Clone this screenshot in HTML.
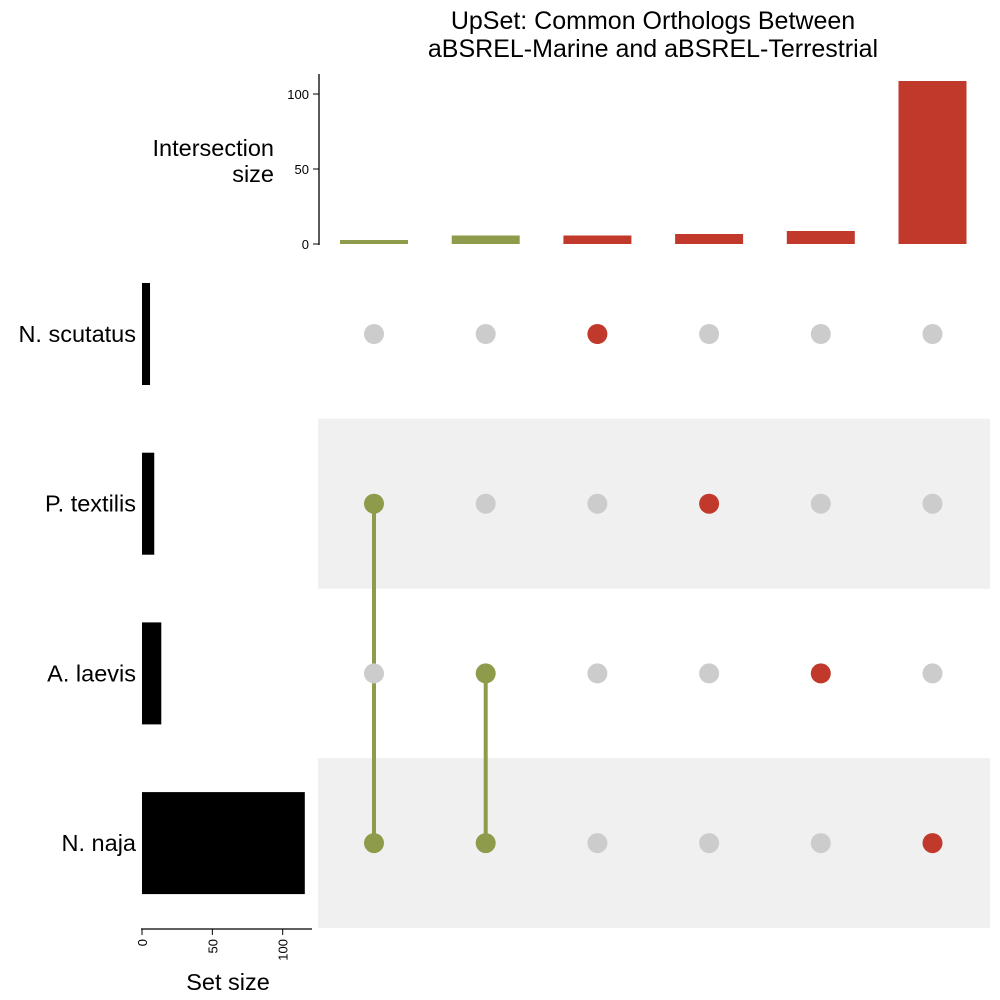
<!DOCTYPE html>
<html><head><meta charset="utf-8"><style>body{margin:0;background:#fff}svg{display:block;font-family:"Liberation Sans",Arial,sans-serif}</style></head>
<body>
<svg id="c" width="1000" height="1000"></svg>
<script>
const sets = ["N. scutatus","P. textilis","A. laevis","N. naja"];
const setSizes = [5, 8, 13, 115];
const interSizes = [2, 5, 5, 6, 8, 108];
const interMembers = [[1,3],[2,3],[0],[1],[2],[3]];
const interColors = ["#8e9b4b","#8e9b4b","#c0392b","#c0392b","#c0392b","#c0392b"];
const yTicks = [0, 50, 100];
const xTicks = [0, 50, 100];

const NS="http://www.w3.org/2000/svg", svg=document.getElementById('c');
function el(t,a,txt){const e=document.createElementNS(NS,t);for(const k in a)e.setAttribute(k,a[k]);if(txt!==undefined)e.textContent=txt;svg.appendChild(e);return e;}
const colX = i => 374 + i*111.7;
const barY = v => 244 - v*1.5;
const rowY = j => 334 + j*169.7;
const setX = v => 142 + v*1.407;

let t=el('text',{x:653,y:29,'text-anchor':'middle','font-size':25},'UpSet: Common Orthologs Between');

t=el('text',{x:653,y:57,'text-anchor':'middle','font-size':25},'aBSREL-Marine and aBSREL-Terrestrial');


sets.forEach((s,j)=>{if(j%2==1){const r=el('rect',{x:318,y:rowY(j)-85,width:672,height:170,fill:'#f0f0f0'});
}});

let a=el('line',{x1:319,y1:74,x2:319,y2:245,stroke:'#000','stroke-width':1.3});

yTicks.forEach(v=>{el('line',{x1:313,x2:319,y1:barY(v),y2:barY(v),stroke:'#000'});
const tl=el('text',{x:309,y:barY(v)+5,'text-anchor':'end','font-size':13},v);
});
t=el('text',{x:274,y:156,'text-anchor':'end','font-size':23.5},'Intersection');

el('text',{x:274,y:182,'text-anchor':'end','font-size':23.5},'size');

interSizes.forEach((v,i)=>{const b=el('rect',{x:colX(i)-34,y:barY(v)-1,width:68,height:245-barY(v),fill:interColors[i]});
});

interMembers.forEach((m,i)=>{
 if(m.length>1){const ys=m.map(rowY);const l=el('line',{x1:colX(i),x2:colX(i),y1:Math.min(...ys),y2:Math.max(...ys),stroke:interColors[i],'stroke-width':4});
 }
 sets.forEach((s,j)=>{const on=m.includes(j);const c=el('circle',{cx:colX(i),cy:rowY(j),r:10,fill:on?interColors[i]:'#cccccc'});
 });
});

sets.forEach((s,j)=>{const l=el('text',{x:136,y:rowY(j)+8,'text-anchor':'end','font-size':23.5},s);

const b=el('rect',{x:142,y:rowY(j)-51,width:setX(setSizes[j])-142+1,height:102,fill:'#000'});
});
a=el('line',{x1:141,y1:929,x2:312,y2:929,stroke:'#000','stroke-width':1.3});

xTicks.forEach(v=>{el('line',{x1:setX(v),x2:setX(v),y1:929,y2:935,stroke:'#000'});
const tl=el('text',{x:0,y:0,'text-anchor':'end','font-size':13,transform:`translate(${setX(v)+5},939) rotate(-90)`},v);
});
t=el('text',{x:228,y:990,'text-anchor':'middle','font-size':23.5},'Set size');

</script>
</body></html>
